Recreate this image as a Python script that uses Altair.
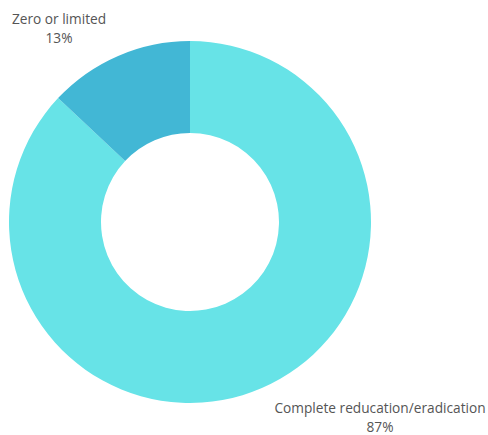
import altair as alt
import pandas as pd

categories = ["Complete reducation/eradication", "Zero or limited"]
values = [87, 13]
colors = ["#67E3E7", "#42B7D5"]

df = pd.DataFrame({"category": categories, "value": values, "order": [0, 1]})

arc = alt.Chart(df).mark_arc(innerRadius=89, outerRadius=181, stroke=None).encode(
    theta=alt.Theta("value:Q", stack=True),
    order=alt.Order("order:Q"),
    color=alt.Color("category:N", scale=alt.Scale(domain=categories, range=colors), legend=None),
    x=alt.value(190),
    y=alt.value(222),
)

lab_df = pd.DataFrame({
    "label": [f"{categories[1]}\n{values[1]}%", f"{categories[0]}\n{values[0]}%"],
})

txt_top = alt.Chart(lab_df.iloc[[0]]).mark_text(
    font="Open Sans", fontSize=13.7, color="#555555", align="center", baseline="alphabetic",
    lineBreak="\n", lineHeight=19,
).encode(text="label:N", x=alt.value(59), y=alt.value(24))

txt_bot = alt.Chart(lab_df.iloc[[1]]).mark_text(
    font="Open Sans", fontSize=13.7, color="#555555", align="center", baseline="alphabetic",
    lineBreak="\n", lineHeight=19,
).encode(text="label:N", x=alt.value(380), y=alt.value(413))

chart = alt.layer(arc, txt_top, txt_bot).properties(
    width=488, height=435, padding=0, autosize=alt.AutoSizeParams(type="none")
).configure_view(stroke=None)

chart.save("out.html", embed_options={"renderer": "svg", "actions": False})
